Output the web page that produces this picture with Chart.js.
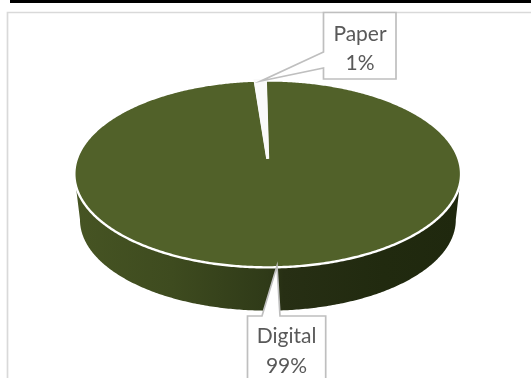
<!DOCTYPE html>
<html>
<head>
<meta charset="utf-8">
<title>Digital vs Paper</title>
<script src="https://cdn.jsdelivr.net/npm/chart.js@4/dist/chart.umd.js"></script>
<style>
  html, body { margin: 0; padding: 0; background: #fff; }
  canvas { display: block; }
</style>
</head>
<body>
<canvas id="shareChart" width="531" height="378"></canvas>
<script>
const categories = ['Digital', 'Paper'];
const shareValues = [99, 1];

const sliceColors = ['#516129', '#fafafa'];

// Perspective used for the tilted disc: k is how far the back edge recedes
const TILT = { cx: 267.7, cy: 158.7, a: 190.8, b: 91, k: 0.1626 };
// Lower rim of the disc, a little narrower because it sits further away
const RIM = { cx: 267.9, cy: 205.1, a: 185.4, b: 88.4, k: 0.1626 };

const callouts = [
    { index: 0, box: [247.5, 316, 325.7, 392], tip: [277, 266], base: [[280, 316], [262, 316]], textX: 286.5, baselines: [343, 373] },
    { index: 1, box: [323.5, 12.5, 396, 79], tip: [261, 81], base: [[323.5, 68], [323.5, 52]], textX: 360, baselines: [40.5, 69.5] }
];

function project(view, angle) {
    const w = 1 - view.k * Math.sin(angle);
    return [view.cx + view.a * Math.cos(angle) / w, view.cy + view.b * Math.sin(angle) / w];
}

function traceArc(ctx, view, from, to) {
    const steps = Math.max(2, Math.ceil(Math.abs(to - from) / 0.01));
    for (let i = 0; i <= steps; i++) {
        const p = project(view, from + (to - from) * i / steps);
        ctx.lineTo(p[0], p[1]);
    }
}

function drawWall(ctx) {
    // The wall runs between the two widest points of the ellipse
    const edge = Math.asin(TILT.k);
    const gradient = ctx.createLinearGradient(76, 0, 460, 0);
    gradient.addColorStop(0, '#465423');
    gradient.addColorStop(0.25, '#3e4b1f');
    gradient.addColorStop(0.5, '#2f3a18');
    gradient.addColorStop(0.54, '#272f14');
    gradient.addColorStop(0.8, '#212a0f');
    gradient.addColorStop(1, '#1f280e');

    ctx.beginPath();
    traceArc(ctx, TILT, edge, Math.PI - edge);
    traceArc(ctx, RIM, Math.PI - edge, edge);
    ctx.closePath();
    ctx.fillStyle = gradient;
    ctx.fill();
}

function drawCallout(ctx, c, text) {
    const [x1, y1, x2, y2] = c.box;
    const isBelow = c.tip[1] < y1;

    ctx.beginPath();
    ctx.moveTo(x1, y1);
    if (isBelow) {
        // pointer leaves through the top edge
        ctx.lineTo(c.base[1][0], c.base[1][1]);
        ctx.lineTo(c.tip[0], c.tip[1]);
        ctx.lineTo(c.base[0][0], c.base[0][1]);
        ctx.lineTo(x2, y1);
        ctx.lineTo(x2, y2);
        ctx.lineTo(x1, y2);
    } else {
        // pointer leaves through the left edge
        ctx.lineTo(x2, y1);
        ctx.lineTo(x2, y2);
        ctx.lineTo(x1, y2);
        ctx.lineTo(c.base[0][0], c.base[0][1]);
        ctx.lineTo(c.tip[0], c.tip[1]);
        ctx.lineTo(c.base[1][0], c.base[1][1]);
    }
    ctx.closePath();
    ctx.fillStyle = '#ffffff';
    ctx.fill();
    ctx.strokeStyle = '#bfbfbf';
    ctx.lineWidth = 1.7;
    ctx.stroke();

    ctx.fillStyle = '#595959';
    ctx.font = '21px Lato';
    ctx.textAlign = 'center';
    ctx.textBaseline = 'alphabetic';
    text.forEach((line, i) => ctx.fillText(line, c.textX, c.baselines[i]));
}

// Page furniture behind the chart: heavy rule and the chart frame
const framePlugin = {
    id: 'frame',
    beforeDraw(chart) {
        const ctx = chart.ctx;
        ctx.save();
        ctx.fillStyle = '#ffffff';
        ctx.fillRect(0, 0, chart.width, chart.height);
        ctx.fillStyle = '#000000';
        ctx.fillRect(10, 0, chart.width - 10, 3);
        ctx.strokeStyle = '#d9d9d9';
        ctx.lineWidth = 1.7;
        ctx.beginPath();
        ctx.moveTo(7.5, chart.height);
        ctx.lineTo(7.5, 12.5);
        ctx.lineTo(chart.width, 12.5);
        ctx.stroke();
        ctx.restore();
    }
};

// Chart.js only draws round pies, so the arcs it computed are redrawn in perspective
const tiltedPiePlugin = {
    id: 'tiltedPie',
    beforeDatasetDraw(chart, args) {
        const ctx = chart.ctx;
        ctx.save();
        drawWall(ctx);
        args.meta.data.forEach(arc => {
            const { startAngle, endAngle } = arc.getProps(['startAngle', 'endAngle'], true);
            ctx.beginPath();
            ctx.moveTo(TILT.cx, TILT.cy);
            traceArc(ctx, TILT, startAngle, endAngle);
            ctx.closePath();
            ctx.fillStyle = arc.options.backgroundColor;
            ctx.fill();
            ctx.strokeStyle = arc.options.borderColor;
            ctx.lineWidth = arc.options.borderWidth;
            ctx.lineJoin = 'miter';
            ctx.stroke();
        });
        ctx.restore();
        return false;
    },
    afterDatasetsDraw(chart) {
        const ctx = chart.ctx;
        ctx.save();
        callouts.forEach(c => {
            drawCallout(ctx, c, [categories[c.index], shareValues[c.index] + '%']);
        });
        ctx.restore();
    }
};

new Chart(document.getElementById('shareChart'), {
    type: 'pie',
    data: {
        labels: categories,
        datasets: [{
            data: shareValues,
            backgroundColor: sliceColors,
            borderColor: ['#ffffff', '#fafafa'],
            borderWidth: [2.4, 3]
        }]
    },
    options: {
        responsive: false,
        animation: false,
        rotation: -0.8,
        plugins: {
            legend: { display: false },
            tooltip: { enabled: false }
        }
    },
    plugins: [framePlugin, tiltedPiePlugin]
});
</script>
</body>
</html>
